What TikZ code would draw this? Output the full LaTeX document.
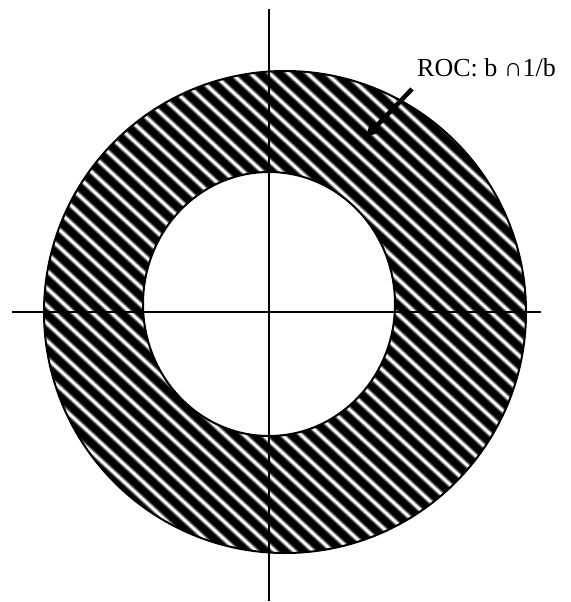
\documentclass[tikz,border=0pt]{standalone}
\usepackage{fontspec}
\setmainfont{Liberation Serif}
\usetikzlibrary{arrows.meta}
\tikzset{
  axisline/.style={line width=2.2pt, black},
  rimline/.style={line width=2pt, black},
  stripeouter/.style={line width=6pt, black!75},
  stripesoft/.style={line width=4pt, black!40},
  stripecore/.style={line width=2.2pt, white},
  pointer/.style={line width=4.5pt, -{Triangle[length=13pt,width=13pt]}},
  lbl/.style={font=\fontsize{26}{30}\selectfont, inner sep=0pt}
}
\begin{document}
\begin{tikzpicture}[x=1pt,y=-1pt]
\useasboundingbox (0,0) rectangle (570,602);
% ring fill
\fill[black] (285,312) circle (241);
\begin{scope}
  \clip (285,312) circle (241);
  \foreach \k in {-40,...,40} {
    \draw[stripeouter] (\k*19,0) -- ++(660,608);
    \draw[stripesoft] (\k*19,0) -- ++(660,608);
    \draw[stripecore] (\k*19,0) -- ++(660,608);
  }
\end{scope}
\fill[white] (269,304) ellipse (126 and 132);
% outlines
\draw[rimline] (285,312) circle (241);
\draw[rimline] (269,304) ellipse (126 and 132);
% axes
\coordinate (vt) at (269,9);
\coordinate (vb) at (269,601);
\coordinate (hl) at (12,312);
\coordinate (hr) at (541,312);
\draw[axisline] (vt) -- (vb);
\draw[axisline] (hl) -- (hr);
% label and pointer
\node[lbl, anchor=base west] (roc) at (417,76) {ROC: b ∩1/b};
\coordinate (ps) at (412,89);
\coordinate (pe) at (366,137);
\draw[pointer] (ps) -- (pe);
\end{tikzpicture}
\end{document}
